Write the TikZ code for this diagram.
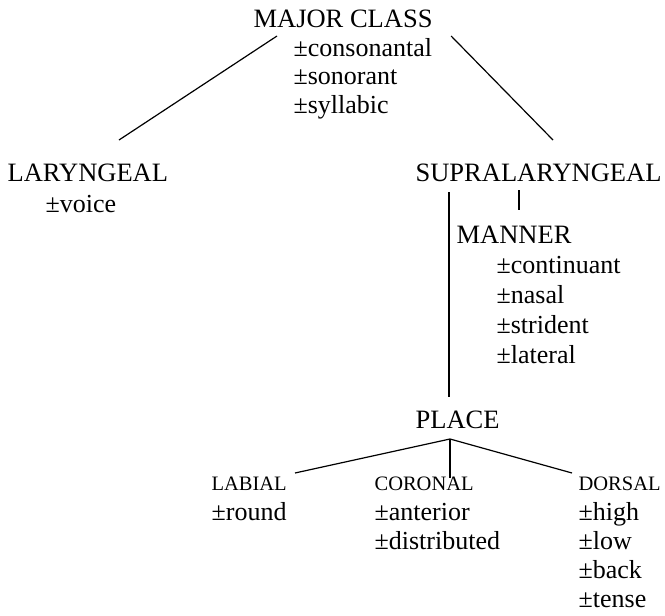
\documentclass[tikz,border=0pt]{standalone}
\usepackage{fontspec}
\setmainfont{Liberation Serif}

\tikzset{
  lab/.style={anchor=base west, inner sep=0pt, font=\fontsize{26.5}{30}\selectfont},
  feat/.style={anchor=base west, inner sep=0pt, font=\fontsize{26}{30}\selectfont},
  smalllab/.style={anchor=base west, inner sep=0pt, font=\fontsize{20.5}{24}\selectfont}
}

\begin{document}
\begin{tikzpicture}[x=1pt, y=-1pt, line width=1.2pt]
      \useasboundingbox (0,0) rectangle (665,616);

      \node[lab] (major) at (253,27) {MAJOR CLASS};
      \foreach \f [count=\i from 0] in {consonantal,sonorant,syllabic}
        \node[feat] (major-\i) at (293,56+28.5*\i) {±\f};

      \node[lab] (laryngeal) at (7,181) {LARYNGEAL};
      \node[feat] (voice) at (45,212) {±voice};

      \node[lab] (supra) at (415,181) {SUPRALARYNGEAL};
      \node[lab] (manner) at (456,243) {MANNER};
      \foreach \f [count=\i from 0] in {continuant,nasal,strident,lateral}
        \node[feat] (manner-\i) at (496,273+30*\i) {±\f};

      \node[lab] (place) at (415,428) {PLACE};
      \node[smalllab] (labial) at (211,490) {LABIAL};
      \node[feat] (round) at (211,520) {±round};
      \node[smalllab] (coronal) at (374,490) {CORONAL};
      \foreach \f [count=\i from 0] in {anterior,distributed}
        \node[feat] (coronal-\i) at (374,520+29.3*\i) {±\f};
      \node[smalllab] (dorsal) at (578,490) {DORSAL};
      \foreach \f [count=\i from 0] in {high,low,back,tense}
        \node[feat] (dorsal-\i) at (578,520+29.3*\i) {±\f};

      \draw ([shift={(24,9)}]major.base west) -- ([shift={(112,-41)}]laryngeal.base west);
      \draw ([shift={(18,9)}]major.base east) -- ([shift={(138,-41)}]supra.base west);
      \draw ([shift={(34,11)}]supra.base west) -- ([shift={(34,-31)}]place.base west);
      \draw ([shift={(104,9)}]supra.base west) -- ([shift={(63,-33)}]manner.base west);

      \coordinate (fork) at ([shift={(35,11)}]place.base west);
      \draw (fork) -- ([shift={(84,-17)}]labial.base west);
      \draw (fork) -- ([shift={(76,-12)}]coronal.base west);
      \draw (fork) -- ([shift={(-6,-17)}]dorsal.base west);
\end{tikzpicture}
\end{document}
